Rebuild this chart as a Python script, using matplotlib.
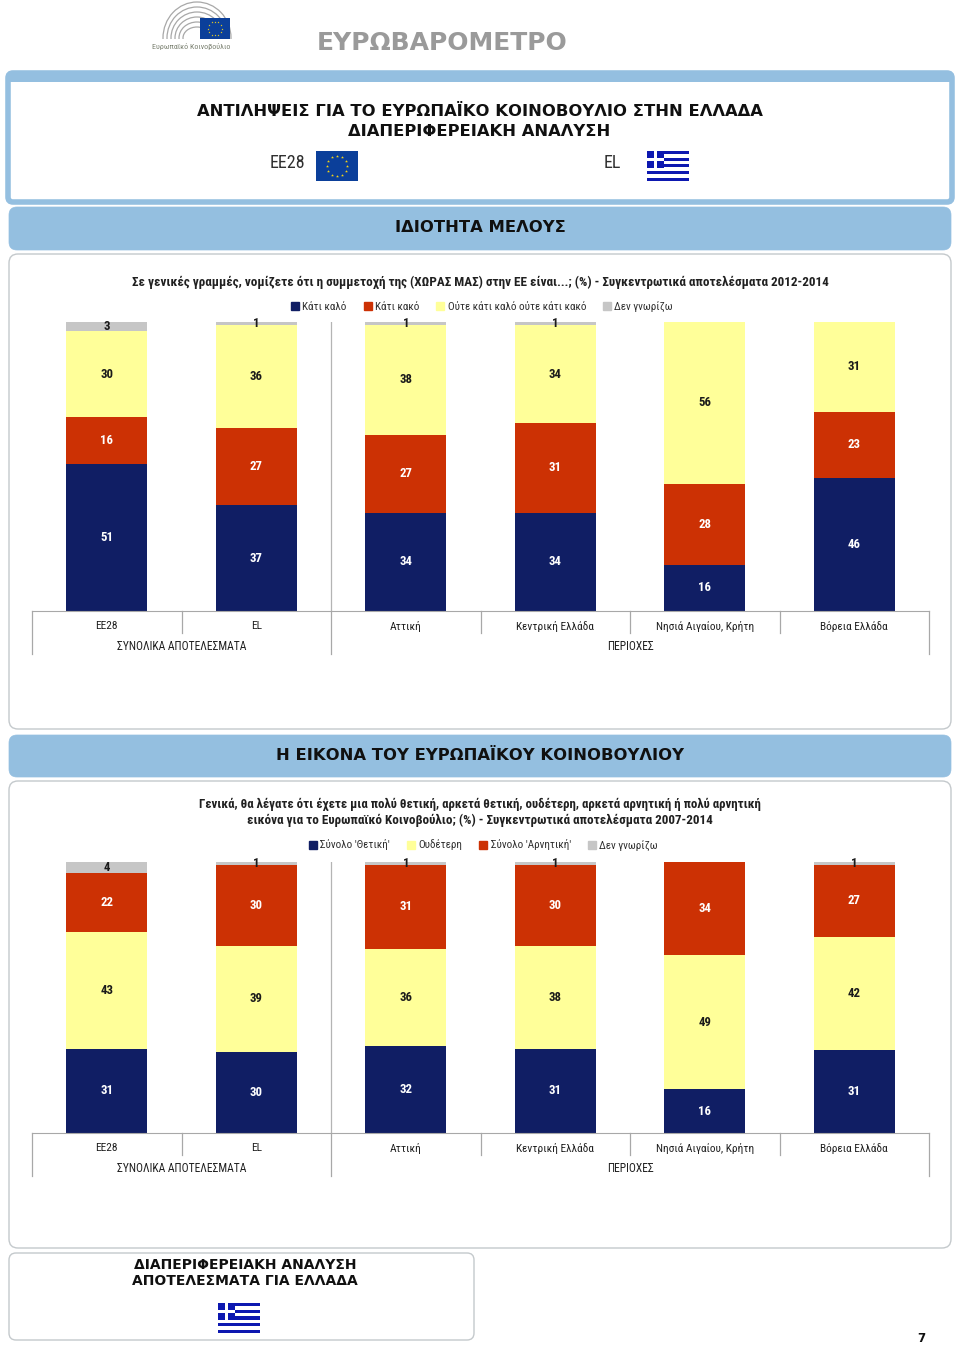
import numpy as np
import matplotlib
matplotlib.use('Agg')
import matplotlib.pyplot as plt
from matplotlib.patches import FancyBboxPatch, Rectangle, Ellipse
from matplotlib.lines import Line2D

plt.rcParams['font.family'] = ['Roboto Condensed', 'Liberation Sans', 'DejaVu Sans']

# data
categories = ['ΕΕ28', 'EL', 'Αττική', 'Κεντρική Ελλάδα', 'Νησιά Αιγαίου, Κρήτη', 'Βόρεια Ελλάδα']
groups = [('ΣΥΝΟΛΙΚΑ ΑΠΟΤΕΛΕΣΜΑΤΑ', 1), ('ΠΕΡΙΟΧΕΣ', 4)]

member_names = ['Κάτι καλό', 'Κάτι κακό', 'Ούτε κάτι καλό ούτε κάτι κακό', 'Δεν γνωρίζω']
member_good = [51, 37, 34, 34, 16, 46]
member_bad = [16, 27, 27, 31, 28, 23]
member_neither = [30, 36, 38, 34, 56, 31]
member_dk = [3, 1, 1, 1, 0, 0]

image_names = ["Σύνολο 'Θετική'", 'Ουδέτερη', "Σύνολο 'Αρνητική'", 'Δεν γνωρίζω']
image_pos = [31, 30, 32, 31, 16, 31]
image_neutral = [43, 39, 36, 38, 49, 42]
image_neg = [22, 30, 31, 30, 34, 27]
image_dk = [4, 1, 1, 1, 0, 1]

BLUE = '#101e64'
RED = '#cc3104'
YELLOW = '#ffff99'
GREY = '#c6c6c6'
BAND = '#94bfe0'
EDGE = '#c4c9cc'
W, H = 960, 1347

fig = plt.figure(figsize=(W / 100, H / 100), dpi=100, facecolor='white')
page = fig.add_axes([0, 0, 1, 1])
page.set_xlim(0, W)
page.set_ylim(H, 0)
page.axis('off')


def box(x0, y0, x1, y1, fc='white', ec=EDGE, lw=1.0, r=8):
    page.add_patch(FancyBboxPatch((x0 + r, y0 + r), x1 - x0 - 2 * r, y1 - y0 - 2 * r,
                                  boxstyle=f'round,pad={r},rounding_size={r}',
                                  fc=fc, ec=ec, lw=lw))


def eu_flag(x, y, w, h, star=5):
    page.add_patch(Rectangle((x, y), w, h, fc='#0b3f9a', ec='none'))
    a = np.linspace(0, 2 * np.pi, 12, endpoint=False)
    page.scatter(x + w / 2 + 0.33 * h * np.cos(a), y + h / 2 + 0.33 * h * np.sin(a),
                 s=star, c='#f7d616', marker='*', linewidths=0)


def gr_flag(x, y, w, h):
    step = h / 9
    page.add_patch(Rectangle((x, y), w, h, fc='white', ec='none'))
    for k in range(0, 9, 2):
        page.add_patch(Rectangle((x, y + k * step), w, step * 0.95, fc='#0d18b0', ec='none'))
    page.add_patch(Rectangle((x, y), 5 * step, 5 * step, fc='#0d18b0', ec='none'))
    page.add_patch(Rectangle((x + 2 * step, y), step, 5 * step, fc='white', ec='none'))
    page.add_patch(Rectangle((x, y + 2 * step), 5 * step, step, fc='white', ec='none'))


def head(x, y, s, size, color='#101010'):
    page.text(x, y, s, ha='center', va='center', fontsize=size, fontweight='bold',
              color=color, family=['DejaVu Sans'])


def stacked(y_top, y_bottom, series, colors, names, legend_x, legend_up):
    left, right = 32, 929
    ax = fig.add_axes([left / W, 1 - y_bottom / H, (right - left) / W, (y_bottom - y_top) / H])
    ax.patch.set_alpha(0)
    x = np.arange(len(categories))
    totals = np.sum(series, axis=0)
    base = np.zeros(len(categories))
    for vals, color in zip(series, colors):
        vals = np.array(vals)
        share = vals / totals * 100
        bars = ax.bar(x, share, 0.542, bottom=base, color=color)
        txt = 'white' if color in (BLUE, RED) else '#1a1a1a'
        ax.bar_label(bars, labels=[str(v) if v else '' for v in vals], label_type='center',
                     fontsize=9.2, fontweight='bold', color=txt)
        base += share
    ax.set_xlim(-0.5, 5.5)
    ax.set_ylim(0, 100)
    for s in ['top', 'left', 'right']:
        ax.spines[s].set_visible(False)
    ax.spines['bottom'].set_color('#a8a8a8')
    ax.set_yticks([])
    ax.set_xticks(x, categories, fontsize=8.2, color='#202020')
    ax.tick_params(axis='x', length=0, pad=7)

    # separators under the axis, in pixels from the baseline
    tr = ax.get_xaxis_transform()
    span = y_bottom - y_top
    for k in range(7):
        depth = 43 if k in (0, 2, 6) else 22
        ax.plot([k - 0.5, k - 0.5], [0, -depth / span], transform=tr, clip_on=False,
                color='#a8a8a8', lw=0.9)
    ax.plot([1.5, 1.5], [0, 1], transform=tr, color='#b4b4b4', lw=0.9)
    ax.text(0.5, -35.5 / span, groups[0][0], transform=tr, ha='center', va='center',
            fontsize=8.3, color='#202020')
    ax.text(3.5, -35.5 / span, groups[1][0], transform=tr, ha='center', va='center',
            fontsize=8.3, color='#202020')

    handles = [Line2D([], [], ls='none', marker='s', ms=5.8, color=c) for c in colors]
    ax.legend(handles, names, ncol=4, frameon=False, loc='center left',
              bbox_to_anchor=((legend_x - left) / (right - left), 1 + legend_up / span),
              fontsize=8.0, handlelength=0.9, handletextpad=0.2, columnspacing=1.45,
              labelcolor='#303030', borderpad=0, borderaxespad=0)
    return ax


# header
for w_, h_ in [(68, 72), (60, 62), (52, 52), (44, 42), (36, 32), (28, 22)]:
    page.add_patch(Ellipse((197, 38), w_, h_, fc='none', ec='#a8a8a8', lw=0.9))
page.add_patch(Rectangle((155, 39), 80, 32, fc='white', ec='none'))
eu_flag(200, 18, 30, 21, star=2.5)
page.text(191, 46, 'Ευρωπαϊκό Κοινοβούλιο', ha='center', va='center', fontsize=5.8, color='#7a8070')
head(442, 43, 'ΕΥΡΩΒΑΡΟΜΕΤΡΟ', 18, color='#9a9a9a')

box(8, 73, 952, 202, fc='white', ec=BAND, lw=4, r=5)
page.add_patch(Rectangle((8, 73), 944, 9, fc=BAND, ec='none'))
head(479.5, 112, 'ΑΝΤΙΛΗΨΕΙΣ ΓΙΑ ΤΟ ΕΥΡΩΠΑΪΚΟ ΚΟΙΝΟΒΟΥΛΙΟ ΣΤΗΝ ΕΛΛΑΔΑ', 11.8)
head(479.5, 131, 'ΔΙΑΠΕΡΙΦΕΡΕΙΑΚΗ ΑΝΑΛΥΣΗ', 11.8)
page.text(287, 163, 'ΕΕ28', ha='center', va='center', fontsize=13, color='#303030')
eu_flag(316, 151, 42, 30)
page.text(612, 163, 'EL', ha='center', va='center', fontsize=13, color='#303030')
gr_flag(647, 151, 42, 30)

# panels
box(9, 207, 951, 250, fc=BAND, ec=BAND, lw=0.5)
head(480, 228, 'ΙΔΙΟΤΗΤΑ ΜΕΛΟΥΣ', 11.8)
box(9, 254, 951, 729, r=9)
page.text(480, 282, 'Σε γενικές γραμμές, νομίζετε ότι η συμμετοχή της (ΧΩΡΑΣ ΜΑΣ) στην ΕΕ είναι...; (%) - Συγκεντρωτικά αποτελέσματα 2012-2014',
          ha='center', va='center', fontsize=9.45, fontweight='bold', color='#202020')

box(9, 735, 951, 777, fc=BAND, ec=BAND, lw=0.5)
head(480, 756, 'Η ΕΙΚΟΝΑ ΤΟΥ ΕΥΡΩΠΑΪΚΟΥ ΚΟΙΝΟΒΟΥΛΙΟΥ', 11.8)
box(9, 781, 951, 1248, r=9)
page.text(480, 804, 'Γενικά, θα λέγατε ότι έχετε μια πολύ θετική, αρκετά θετική, ουδέτερη, αρκετά αρνητική ή πολύ αρνητική',
          ha='center', va='center', fontsize=9.3, fontweight='bold', color='#202020')
page.text(480, 820, 'εικόνα για το Ευρωπαϊκό Κοινοβούλιο; (%) - Συγκεντρωτικά αποτελέσματα 2007-2014',
          ha='center', va='center', fontsize=9.45, fontweight='bold', color='#202020')

box(9, 1253, 474, 1340, r=7)
head(245, 1265, 'ΔΙΑΠΕΡΙΦΕΡΕΙΑΚΗ ΑΝΑΛΥΣΗ', 10)
head(245, 1281, 'ΑΠΟΤΕΛΕΣΜΑΤΑ ΓΙΑ ΕΛΛΑΔΑ', 10)
gr_flag(218, 1303, 42, 30)
head(921, 1339, '7', 8.5)

# charts
stacked(322, 611, [member_good, member_bad, member_neither, member_dk],
        [BLUE, RED, YELLOW, GREY], member_names, 290, 15.5)
stacked(862, 1133, [image_pos, image_neutral, image_neg, image_dk],
        [BLUE, YELLOW, RED, GREY], image_names, 308, 17)

fig.savefig('out.png', dpi=100)
